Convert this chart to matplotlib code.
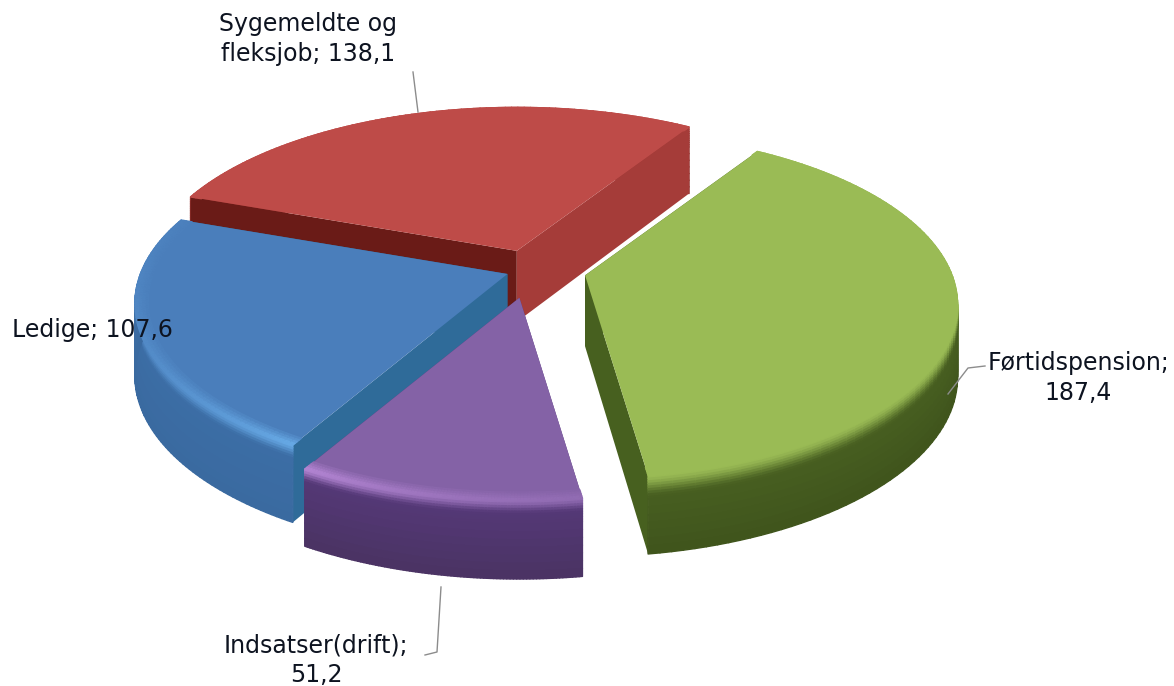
import numpy as np
import matplotlib
matplotlib.use("Agg")
import matplotlib.pyplot as plt
from matplotlib.collections import PolyCollection
from matplotlib.colors import to_rgb

# slices, clockwise from the start angle
names = ["Førtidspension", "Indsatser(drift)", "Ledige", "Sygemeldte og fleksjob"]
values = [187.4, 51.2, 107.6, 138.1]
explode = [55, 60, 25, 45]
top_cols = ["#9abb55", "#8462a6", "#4a7ebb", "#be4b48"]
hi_cols = ["#9abb55", "#b284d2", "#66a8e4", "#be4b48"]
wall_cols = ["#4a6222", "#56397a", "#3c6ea6", "#9c3734"]
low_cols = ["#3f541c", "#4a3363", "#3a6aa0", "#8f302d"]
# the left cut of the red slice is the dark one
cut_start_cols = ["#47601f", "#56397a", "#2f6b99", "#6a1b17"]
cut_end_cols = ["#47601f", "#56397a", "#2f6b99", "#a53c39"]
bevels = [0.28, 0.18, 0.18, 0.1]
draw_order = [3, 0, 2, 1]

start = 32.5
center = (531, 270)
R = 367.0
depth = 71.0
k = 0.458
d = 2140.0


def proj(th, r):
    x = r * np.sin(np.radians(th))
    y = r * np.cos(np.radians(th))
    s = d / (d + y)
    return x * s, -k * y * s, s


def mix(a, b, t):
    a, b = np.array(to_rgb(a)), np.array(to_rgb(b))
    return tuple(a + (b - a) * t)


def quads(ax, polys, cols, z):
    pc = PolyCollection(polys, facecolors=cols, edgecolors=cols, linewidths=1.0, zorder=z)
    ax.add_collection(pc)


fig = plt.figure(figsize=(11.74, 6.86), dpi=100)
ax = fig.add_axes([0, 0, 1, 1])
ax.set_xlim(0, 1174)
ax.set_ylim(686, 0)
ax.axis("off")

spans = np.array(values) / sum(values) * 360
ends = start + np.cumsum(spans)
starts = ends - spans

for z, i in enumerate(draw_order):
    mid = (starts[i] + ends[i]) / 2
    ox, oy, _ = proj(mid, explode[i])
    ax0, ay0 = center[0] + ox, center[1] + oy
    th = np.linspace(starts[i], ends[i], 90)
    px, py, ps = proj(th, R)
    rx, ry = ax0 + px, ay0 + py
    h = depth * (1 + 0.5 * (ps - 1))
    zz = z * 10 + 1

    # outer wall goes behind the cuts only when the slice points away
    wall_z = zz if np.cos(np.radians(mid)) > 0 else zz + 1.5

    # outer wall, rows going down with a soft bevel at the top
    weight = np.exp(-np.abs(th - 210) / 30)
    levels = np.r_[np.linspace(0, 0.3, 10), np.linspace(0.4, 1, 7)]
    polys, cols = [], []
    for a in range(len(th) - 1):
        for b in range(len(levels) - 1):
            t0, t1 = levels[b], levels[b + 1]
            polys.append([(rx[a], ry[a] + h[a] * t0), (rx[a + 1], ry[a + 1] + h[a + 1] * t0),
                          (rx[a + 1], ry[a + 1] + h[a + 1] * t1), (rx[a], ry[a] + h[a] * t1)])
            tm = (t0 + t1) / 2
            bevel = mix(top_cols[i], hi_cols[i], weight[a])
            body = mix(wall_cols[i], low_cols[i], tm)
            u = min(tm / bevels[i], 1)
            cols.append(mix(bevel, body, u * u * (3 - 2 * u)))
    quads(ax, polys, cols, wall_z)

    # cut faces
    ax.fill([ax0, rx[0], rx[0], ax0], [ay0, ry[0], ry[0] + h[0], ay0 + depth],
            color=cut_start_cols[i], lw=0, zorder=zz + 1)
    ax.fill([ax0, rx[-1], rx[-1], ax0], [ay0, ry[-1], ry[-1] + h[-1], ay0 + depth],
            color=cut_end_cols[i], lw=0, zorder=zz + 1)

    # top face
    ax.fill(np.r_[ax0, rx], np.r_[ay0, ry], color=top_cols[i], lw=0, zorder=zz + 2)

    # lighter band just inside the rim
    radii = np.linspace(0.965, 1, 5)
    polys, cols = [], []
    for a in range(len(th) - 1):
        for b in range(len(radii) - 1):
            x0, y0, _ = proj(th[a:a + 2], R * radii[b])
            x1, y1, _ = proj(th[a:a + 2], R * radii[b + 1])
            polys.append([(ax0 + x0[0], ay0 + y0[0]), (ax0 + x0[1], ay0 + y0[1]),
                          (ax0 + x1[1], ay0 + y1[1]), (ax0 + x1[0], ay0 + y1[0])])
            cols.append(mix(top_cols[i], hi_cols[i], weight[a] * (b + 1) / 4))
    quads(ax, polys, cols, zz + 3)

# leader lines
line_col = "#8c8c8c"
ax.plot([413, 418], [72, 112], color=line_col, lw=1, zorder=60)
ax.plot([985, 968, 948], [366, 368, 394], color=line_col, lw=1, zorder=60)
ax.plot([425, 437, 441], [655, 652, 587], color=line_col, lw=1, zorder=60)

# data labels
txt = dict(fontsize=17.0, color="#0d1320", ha="center", va="center",
           linespacing=1.3, zorder=70, family="DejaVu Sans")
fmt = [f"{v:.1f}".replace(".", ",") for v in values]
ax.text(308, 39, f"Sygemeldte og\nfleksjob; {fmt[3]}", **txt)
ax.text(1078, 378, f"{names[0]};\n{fmt[0]}", **txt)
ax.text(316, 660, f"{names[1]};\n{fmt[1]}", **txt)
ax.text(92, 330, f"{names[2]}; {fmt[2]}", **txt)

fig.savefig("out.png", dpi=100, facecolor="white")
